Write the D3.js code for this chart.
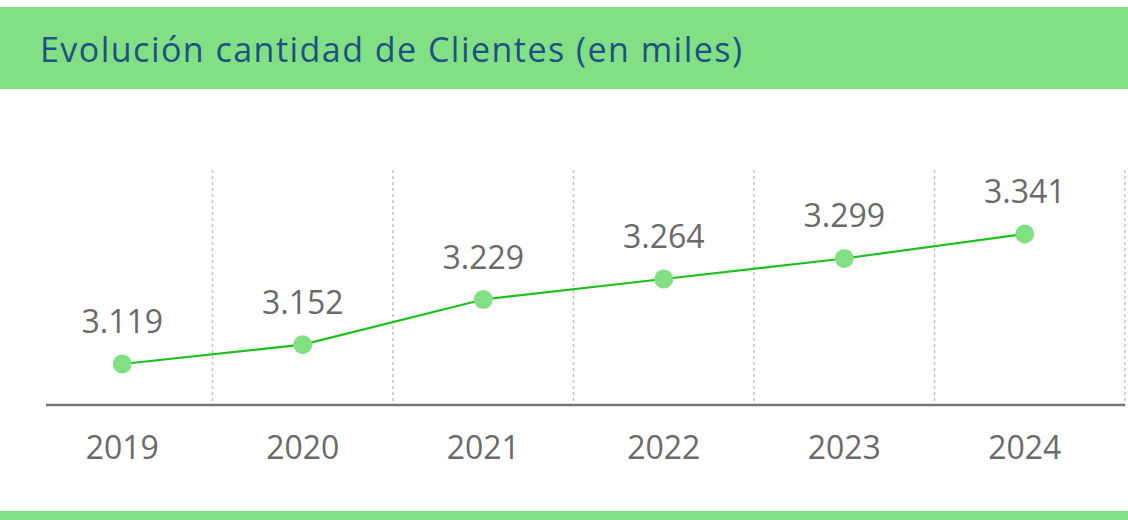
<!DOCTYPE html>
<html>
<head>
<meta charset="utf-8">
<script src="https://cdn.jsdelivr.net/npm/d3@7"></script>
<style>
  html, body { margin: 0; padding: 0; background: #fff; }
  svg { display: block; font-family: "Open Sans", sans-serif; }
</style>
</head>
<body>
<div id="chart"></div>
<script>
const title = "Evolución cantidad de Clientes (en miles)";
const years = ["2019", "2020", "2021", "2022", "2023", "2024"];
const clientes = [3.119, 3.152, 3.229, 3.264, 3.299, 3.341];

const width = 1128, height = 520;
const green = "#82e084";

const svg = d3.select("#chart")
  .append("svg")
  .attr("width", width)
  .attr("height", height);

// header band
svg.append("rect")
  .attr("x", 0).attr("y", 7)
  .attr("width", width).attr("height", 82)
  .attr("fill", green);

const t = svg.append("text")
  .attr("x", 40).attr("y", 62)
  .attr("fill", "#1f5082")
  .attr("font-size", 34)
  .text(title);
// stretch the letter spacing so the title ends where the reference does
const natural = t.node().getComputedTextLength();
t.attr("letter-spacing", (702 - natural) / (title.length - 1));

// footer band
svg.append("rect")
  .attr("x", 0).attr("y", 511)
  .attr("width", width).attr("height", 9)
  .attr("fill", green);

const x = d3.scaleBand()
  .domain(years)
  .range([32, 1115]);

const y = d3.scaleLinear()
  .domain([3.049, 3.45])
  .range([405, 170]);

// vertical dashed separators between years
const seps = years.slice(1).map(d => x(d)).concat([1125]);
svg.append("g")
  .selectAll("line")
  .data(seps)
  .join("line")
  .attr("x1", d => d).attr("x2", d => d)
  .attr("y1", 170).attr("y2", 405)
  .attr("stroke", "#c4c4c4")
  .attr("stroke-width", 1.5)
  .attr("stroke-dasharray", "3,3");

// x axis
const xAxis = svg.append("g")
  .attr("transform", "translate(0,405)")
  .call(d3.axisBottom(x).tickSize(0).tickPadding(31));
xAxis.select(".domain").remove();
xAxis.append("line")
  .attr("x1", 46).attr("x2", 1125)
  .attr("stroke", "#777").attr("stroke-width", 2.5);
xAxis.selectAll("text")
  .attr("font-family", "Open Sans, sans-serif")
  .attr("font-size", 32)
  .attr("fill", "#6a6a6a")
  .attr("dy", "0.72em");

const cx = d => x(d) + x.bandwidth() / 2;

const line = d3.line()
  .x((d, i) => cx(years[i]))
  .y(d => y(d));

svg.append("path")
  .datum(clientes)
  .attr("fill", "none")
  .attr("stroke", "#1ec01e")
  .attr("stroke-width", 2.2)
  .attr("d", line);

svg.append("g")
  .selectAll("circle")
  .data(clientes)
  .join("circle")
  .attr("cx", (d, i) => cx(years[i]))
  .attr("cy", d => y(d))
  .attr("r", 9.5)
  .attr("fill", green);

const fmt = d => d.toFixed(3);
svg.append("g")
  .selectAll("text")
  .data(clientes)
  .join("text")
  .attr("x", (d, i) => cx(years[i]))
  .attr("y", d => y(d) - 31)
  .attr("text-anchor", "middle")
  .attr("font-size", 32)
  .attr("fill", "#6a6a6a")
  .text(fmt);
</script>
</body>
</html>
